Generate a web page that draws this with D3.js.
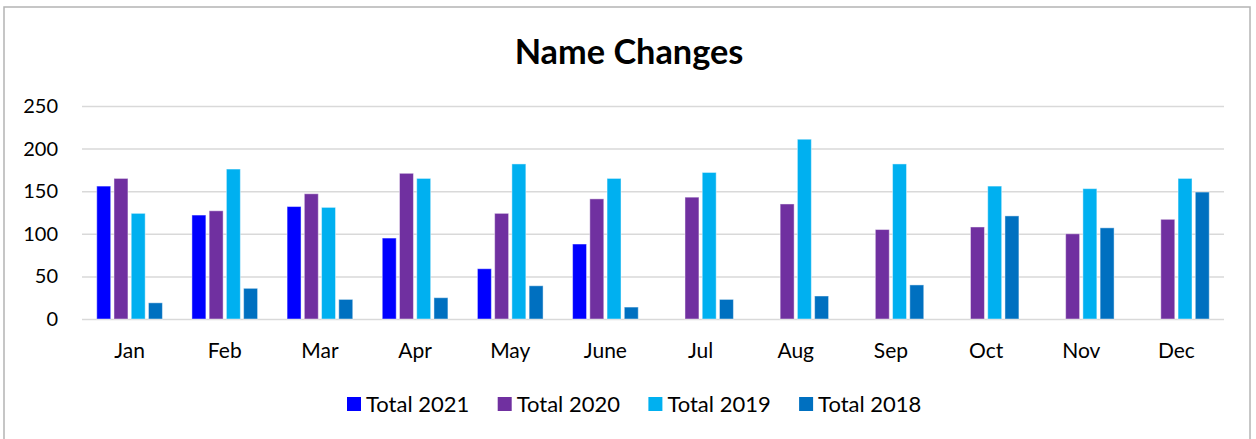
<!DOCTYPE html>
<html>
<head>
<meta charset="utf-8">
<script src="https://cdn.jsdelivr.net/npm/d3@7"></script>
<style>
  html, body { margin: 0; padding: 0; background: #fff; }
  svg { display: block; }
  text { font-family: Lato, "Open Sans", sans-serif; fill: #000; }
</style>
</head>
<body>
<div id="chart"></div>
<script>
// chart data
const months = ['Jan', 'Feb', 'Mar', 'Apr', 'May', 'June', 'Jul', 'Aug', 'Sep', 'Oct', 'Nov', 'Dec'];
const seriesNames = ['Total 2021', 'Total 2020', 'Total 2019', 'Total 2018'];
const total2021 = [156, 122, 132, 95, 59, 88, 0, 0, 0, 0, 0, 0];
const total2020 = [165, 127, 147, 171, 124, 141, 143, 135, 105, 108, 100, 117];
const total2019 = [124, 176, 131, 165, 182, 165, 172, 211, 182, 156, 153, 165];
const total2018 = [19, 36, 23, 25, 39, 14, 23, 27, 40, 121, 107, 149];
const yTicks = [0, 50, 100, 150, 200, 250];
const seriesColors = ['#0000FF', '#7030A0', '#00B0F0', '#0070C0'];

const allSeries = [total2021, total2020, total2019, total2018];

const W = 1256, H = 439;
const plotLeft = 82, plotRight = 1224, plotTop = 106, plotBottom = 319;

const svg = d3.select('#chart').append('svg')
  .attr('width', W)
  .attr('height', H);

// outer chart border
svg.append('rect')
  .attr('x', 4).attr('y', 7)
  .attr('width', 1246).attr('height', 450)
  .attr('fill', '#fff')
  .attr('stroke', '#b4b4b4')
  .attr('stroke-width', 1.5);

// title
svg.append('text')
  .attr('x', 629).attr('y', 64)
  .attr('text-anchor', 'middle')
  .attr('font-size', 34.3)
  .attr('font-weight', 'bold')
  .text('Name Changes');

// scales
let y = d3.scaleLinear().domain([0, 250]).range([plotBottom, plotTop]);

let x0 = d3.scaleBand()
  .domain(months)
  .range([plotLeft, plotRight])
  .paddingInner(0.31)
  .paddingOuter(0.155);

let x1 = d3.scaleBand()
  .domain(seriesNames)
  .range([0, x0.bandwidth()])
  .paddingInner(0.19);

let color = d3.scaleOrdinal().domain(seriesNames).range(seriesColors);

// y axis + gridlines
let yAxis = svg.append('g')
  .attr('transform', `translate(${plotLeft},0)`)
  .call(d3.axisLeft(y).tickValues(yTicks).tickSize(-(plotRight - plotLeft)).tickPadding(24));
yAxis.select('.domain').remove();
yAxis.selectAll('.tick line')
  .attr('stroke', '#d9d9d9')
  .attr('stroke-width', 1.5);
yAxis.selectAll('.tick text')
  .attr('font-size', 20)
  .attr('font-family', 'Lato, sans-serif')
  .attr('fill', '#000');

// x axis labels
let xAxis = svg.append('g')
  .attr('transform', `translate(0,${plotBottom})`)
  .call(d3.axisBottom(x0).tickSize(0).tickPadding(24));
xAxis.select('.domain').remove();
xAxis.selectAll('.tick text')
  .attr('font-size', 21)
  .attr('font-family', 'Lato, sans-serif')
  .attr('fill', '#000');

// bars
let groups = svg.selectAll('.month')
  .data(months)
  .enter()
  .append('g')
  .attr('class', 'month')
  .attr('transform', d => `translate(${x0(d)},0)`);

groups.selectAll('rect')
  .data((m, i) => seriesNames.map((s, j) => ({ s: s, v: allSeries[j][i] })).filter(d => d.v > 0))
  .enter()
  .append('rect')
  .attr('x', d => x1(d.s))
  .attr('y', d => y(d.v))
  .attr('width', x1.bandwidth())
  .attr('height', d => y(0) - y(d.v))
  .attr('fill', d => color(d.s))
  .attr('stroke', 'rgba(255,255,255,0.45)')
  .attr('stroke-width', 1);

// legend
let legend = svg.append('g')
  .attr('transform', 'translate(347,404)');

let items = legend.selectAll('.item')
  .data(seriesNames)
  .enter()
  .append('g')
  .attr('class', 'item')
  .attr('transform', (d, i) => `translate(${i * 150.7},0)`);

items.append('rect')
  .attr('x', 0).attr('y', -7)
  .attr('width', 14).attr('height', 14)
  .attr('fill', d => color(d));

items.append('text')
  .attr('x', 19).attr('y', 0)
  .attr('dy', '0.35em')
  .attr('font-size', 22)
  .text(d => d);
</script>
</body>
</html>
